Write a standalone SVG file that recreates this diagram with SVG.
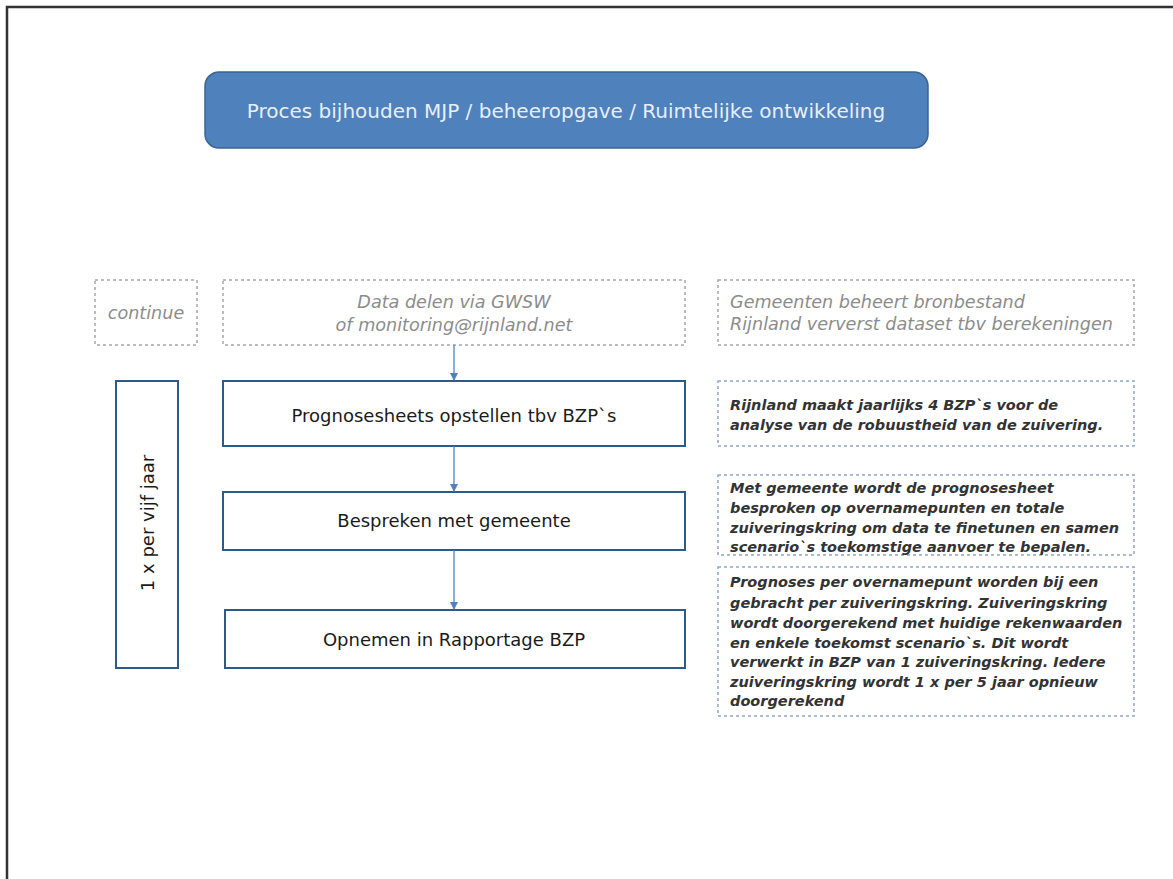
<svg xmlns="http://www.w3.org/2000/svg" width="1173" height="879" viewBox="0 0 1173 879">
<defs>
<style>
.page{fill:none;stroke:#333;stroke-width:2.5}
.title{fill:#4f81bd;stroke:#3a6494;stroke-width:1.5}
.titletxt{font-family:"DejaVu Sans",Verdana,sans-serif;font-size:20px;fill:#e8eef7}
.dg{fill:none;stroke:#a6a6a6;stroke-width:1.5;stroke-dasharray:3 3}
.db{fill:none;stroke:#8fa6c4;stroke-width:1.5;stroke-dasharray:3 3}
.box{fill:#fff;stroke:#2e5a8a;stroke-width:2}
.gt{font-family:"DejaVu Sans",Verdana,sans-serif;font-size:17.6px;font-style:italic;fill:#8c8c8c}
.bt{font-family:"DejaVu Sans",Verdana,sans-serif;font-size:18px;fill:#1a1a1a}
.nt{font-family:"DejaVu Sans",Verdana,sans-serif;font-size:14.5px;font-style:italic;font-weight:bold;fill:#333}
.conn{stroke:#4f81bd;stroke-width:1.3;fill:none;marker-end:url(#ah)}
</style>
<marker id="ah" markerWidth="8" markerHeight="8" refX="7" refY="4" orient="auto" markerUnits="userSpaceOnUse">
<path d="M0,0 L8,4 L0,8 z" fill="#4f81bd"/>
</marker>
</defs>
<rect x="0" y="0" width="1173" height="879" fill="#fff"/>
<path class="page" d="M7,879 V7 H1173"/>

<g id="title">
<rect class="title" x="205" y="72" width="723" height="76" rx="14"/>
<text class="titletxt" x="566" y="118" text-anchor="middle">Proces bijhouden MJP / beheeropgave / Ruimtelijke ontwikkeling</text>
</g>

<g id="continue">
<rect class="dg" x="95" y="280" width="102" height="65"/>
<text class="gt" x="146" y="319" text-anchor="middle">continue</text>
</g>

<g id="data">
<rect class="dg" x="223" y="280" width="462" height="65"/>
<text class="gt" x="454" y="308" text-anchor="middle">Data delen via GWSW</text>
<text class="gt" x="454" y="331" text-anchor="middle">of monitoring@rijnland.net</text>
</g>

<g id="gemeenten">
<rect class="dg" x="718" y="280" width="416" height="65"/>
<text class="gt" x="730" y="308">Gemeenten beheert bronbestand</text>
<text class="gt" x="730" y="330">Rijnland ververst dataset tbv berekeningen</text>
</g>

<g id="periode">
<rect class="box" x="116" y="381" width="62" height="287"/>
<text class="bt" transform="translate(154,523) rotate(-90)" text-anchor="middle">1 x per vijf jaar</text>
</g>

<g id="prognosesheets">
<rect class="box" x="223" y="381" width="462" height="65"/>
<text class="bt" x="454" y="422" text-anchor="middle">Prognosesheets opstellen tbv BZP`s</text>
</g>

<g id="bespreken">
<rect class="box" x="223" y="492" width="462" height="58"/>
<text class="bt" x="454" y="527" text-anchor="middle">Bespreken met gemeente</text>
</g>

<g id="opnemen">
<rect class="box" x="225" y="610" width="460" height="58"/>
<text class="bt" x="454" y="646" text-anchor="middle">Opnemen in Rapportage BZP</text>
</g>

<g id="note1">
<rect class="db" x="718" y="381" width="416" height="65"/>
<text class="nt" x="730" y="410">Rijnland maakt jaarlijks 4 BZP`s voor de</text>
<text class="nt" x="730" y="430">analyse van de robuustheid van de zuivering.</text>
</g>

<g id="note2">
<rect class="db" x="718" y="475" width="416" height="80"/>
<text class="nt" x="730" y="493">Met gemeente wordt de prognosesheet</text>
<text class="nt" x="730" y="513">besproken op overnamepunten en totale</text>
<text class="nt" x="730" y="533">zuiveringskring om data te finetunen en samen</text>
<text class="nt" x="730" y="552">scenario`s toekomstige aanvoer te bepalen.</text>
</g>

<g id="note3">
<rect class="db" x="718" y="567" width="416" height="149"/>
<text class="nt" x="730" y="587">Prognoses per overnamepunt worden bij een</text>
<text class="nt" x="730" y="608">gebracht per zuiveringskring. Zuiveringskring</text>
<text class="nt" x="730" y="628">wordt doorgerekend met huidige rekenwaarden</text>
<text class="nt" x="730" y="648">en enkele toekomst scenario`s. Dit wordt</text>
<text class="nt" x="730" y="667">verwerkt in BZP van 1 zuiveringskring. Iedere</text>
<text class="nt" x="730" y="687">zuiveringskring wordt 1 x per 5 jaar opnieuw</text>
<text class="nt" x="730" y="706">doorgerekend</text>
</g>

<g id="connectors">
<line class="conn" x1="454" y1="345" x2="454" y2="380"/>
<line class="conn" x1="454" y1="446" x2="454" y2="491"/>
<line class="conn" x1="454" y1="550" x2="454" y2="609"/>
</g>
</svg>
